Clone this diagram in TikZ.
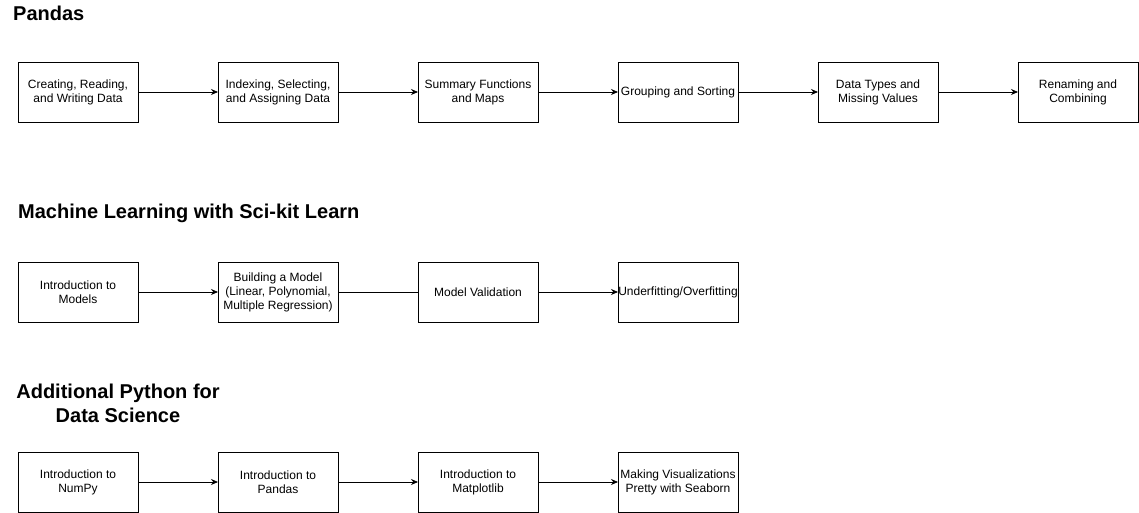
\documentclass[tikz,border=0pt]{standalone}
\usepackage{fontspec}
\setmainfont{Liberation Sans}
\usetikzlibrary{positioning,arrows.meta}
\tikzset{topic/.style = {draw, thick, minimum width=120pt, minimum height=60pt, inner sep=0pt, outer sep=0pt, align=center, font=\fontsize{12}{14}\selectfont}}
\tikzset{head/.style = {font=\fontsize{20}{24}\selectfont\bfseries, inner sep=0pt, align=center}}
\tikzset{link/.style = {thick, -{Stealth[length=7pt,width=6pt]}}}

\begin{document}
\begin{tikzpicture}[x=1pt, y=-1pt, node distance=80pt]
      \useasboundingbox (0, 0) rectangle (1139, 513);
      % Pandas
      \node [head, anchor=west] (hpd) at (13, 13) {Pandas};
      \node [topic] (pd1) at (78, 92) {Creating, Reading,\\and Writing Data};
      \node [topic, right=of pd1] (pd2) {Indexing, Selecting,\\and Assigning Data};
      \node [topic, right=of pd2] (pd3) {Summary Functions\\and Maps};
      \node [topic, right=of pd3] (pd4) {Grouping and Sorting};
      \node [topic, right=of pd4] (pd5) {Data Types and\\Missing Values};
      \node [topic, right=of pd5] (pd6) {Renaming and\\Combining};
      \foreach \a/\b in {pd1/pd2, pd2/pd3, pd3/pd4, pd4/pd5, pd5/pd6}
        \draw [link] (\a) -- (\b);
      % Machine learning
      \node [head, anchor=west] (hml) at (18, 213) {Machine Learning with Sci-kit Learn};
      \node [topic] (ml1) at (78, 292) {Introduction to\\Models};
      \node [topic, right=of ml1] (ml2) {Building a Model\\(Linear, Polynomial,\\Multiple Regression)};
      \node [topic, right=of ml2] (ml3) {Model Validation};
      \node [topic, right=of ml3] (ml4) {Underfitting/Overfitting};
      \draw [link] (ml1) -- (ml2);
      \draw [thick] (ml2) -- (ml3);
      \draw [link] (ml3) -- (ml4);
      % Additional Python
      \node [head] (hpy) at (118, 403) {Additional Python for\\Data Science};
      \node [topic] (py1) at (78, 482) {Introduction to\\NumPy};
      \node [topic, right=of py1] (py2) {Introduction to\\Pandas};
      \node [topic, right=of py2] (py3) {Introduction to\\Matplotlib};
      \node [topic, right=of py3] (py4) {Making Visualizations\\Pretty with Seaborn};
      \foreach \a/\b in {py1/py2, py2/py3, py3/py4}
        \draw [link] (\a) -- (\b);
    \end{tikzpicture}
\end{document}
